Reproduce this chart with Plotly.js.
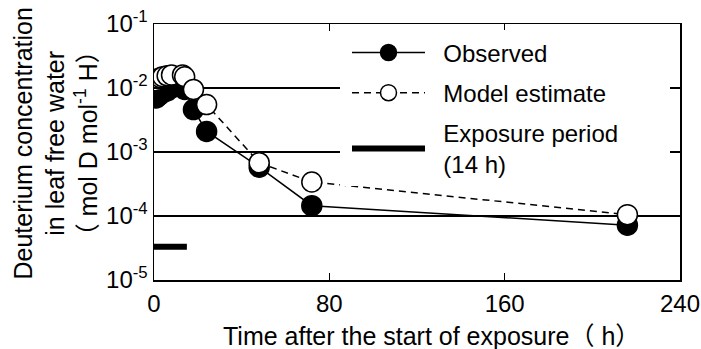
<!DOCTYPE html>
<html>
<head>
<meta charset="utf-8">
<script src="https://cdn.plot.ly/plotly-3.0.1.min.js"></script>
<style>html,body{margin:0;padding:0;background:#fff;}</style>
</head>
<body>
<div id="chart" style="width:701px;height:349px;"></div>
<script>
// Time after start of exposure (h)
const hours = [1, 2, 3, 4, 6, 8, 13, 14, 18, 24, 48, 72, 216];
// Observed deuterium concentration (mol D / mol H)
const observed = [0.0070, 0.0075, 0.0080, 0.0085, 0.0090, 0.0100, 0.0105, 0.0095, 0.0046, 0.0021, 0.00058, 0.000145, 0.000072];
// Model estimate
const modelEst = [0.0130, 0.0140, 0.0145, 0.0150, 0.0155, 0.0160, 0.0160, 0.0150, 0.0095, 0.0055, 0.00068, 0.00034, 0.000105];
// Exposure period bar (0-14 h)
const exposureX = [0, 15];
const exposureY = [0.000033, 0.000033];
// Axis ticks
const xTicks = [0, 80, 160, 240];
const yTicks = [1e-5, 1e-4, 1e-3, 1e-2, 1e-1];
const yTickText = ['10<sup>-5</sup>', '10<sup>-4</sup>', '10<sup>-3</sup>', '10<sup>-2</sup>', '10<sup>-1</sup>'];

const font = 'Arial, "Liberation Sans", "Noto Sans CJK JP", sans-serif';
const pre = '\u00a0\u00a0';
const padEnd = '\u00a0\u00a0\u00a0\u00a0\u00a0\u00a0\u00a0';

const traces = [
  {
    x: hours, y: observed, name: pre + 'Observed', type: 'scatter', mode: 'lines+markers',
    legendgroup: 'a',
    line: {color: '#000', width: 1.5},
    marker: {symbol: 'circle', size: 20, color: '#000', line: {color: '#000', width: 1.5}}
  },
  {
    x: hours, y: modelEst, name: pre + 'Model estimate', type: 'scatter', mode: 'lines+markers',
    legendgroup: 'b',
    line: {color: '#000', width: 1.5, dash: '7px,5px'},
    marker: {symbol: 'circle', size: 20, color: '#fff', line: {color: '#000', width: 1.5}}
  },
  {
    x: exposureX, y: exposureY, name: pre + 'Exposure period' + padEnd + '<br>' + pre + '(14 h)', type: 'scatter', mode: 'lines',
    legendgroup: 'c',
    line: {color: '#000', width: 6}
  }
];

const layout = {
  width: 701, height: 349,
  margin: {l: 154, r: 21, t: 24, b: 69, pad: 0},
  paper_bgcolor: '#fff', plot_bgcolor: '#fff',
  font: {family: font, color: '#000', size: 24},
  showlegend: true,
  legend: {
    x: (340 - 154) / 526, y: 0.975, xanchor: 'left', yanchor: 'top',
    bgcolor: '#fff', borderwidth: 0, indentation: 7,
    font: {family: font, size: 24, color: '#000'},
    itemwidth: 73, tracegroupgap: 6, valign: 'middle'
  },
  xaxis: {
    range: [0, 240], tickvals: xTicks, ticktext: xTicks.map(String),
    ticks: 'inside', ticklen: 7, tickwidth: 1.5, tickcolor: '#000',
    showline: true, linecolor: '#000', linewidth: 1.5, mirror: 'ticks',
    showgrid: false, zeroline: false, ticklabelstandoff: 2,
    tickfont: {family: font, size: 24, color: '#000'}
  },
  yaxis: {
    type: 'log', range: [-5, -1], tickvals: yTicks, ticktext: yTickText,
    ticks: 'inside', ticklen: 7, tickwidth: 1.5, tickcolor: '#000',
    showline: true, linecolor: '#000', linewidth: 1.5, mirror: 'ticks',
    showgrid: true, gridcolor: '#000', gridwidth: 1.5, zeroline: false,
    tickfont: {family: font, size: 24, color: '#000'}
  },
  annotations: [
    {
      text: 'Deuterium concentration<br>in leaf free water<br>（ mol D mol<sup>-1</sup> H）',
      textangle: -90, showarrow: false,
      xref: 'paper', yref: 'paper',
      x: (54.5 - 154) / 526, y: (280 - 144) / 256, xanchor: 'center', yanchor: 'middle',
      font: {family: font, size: 25, color: '#000'}
    },
    {
      text: 'Time after the start of exposure（ h）',
      showarrow: false,
      xref: 'paper', yref: 'paper',
      x: (221 - 154) / 526, y: (280 - 336) / 256, xanchor: 'left', yanchor: 'middle',
      font: {family: font, size: 25, color: '#000'}
    }
  ]
};

Plotly.newPlot('chart', traces, layout, {displayModeBar: false, staticPlot: true});
</script>
</body>
</html>
